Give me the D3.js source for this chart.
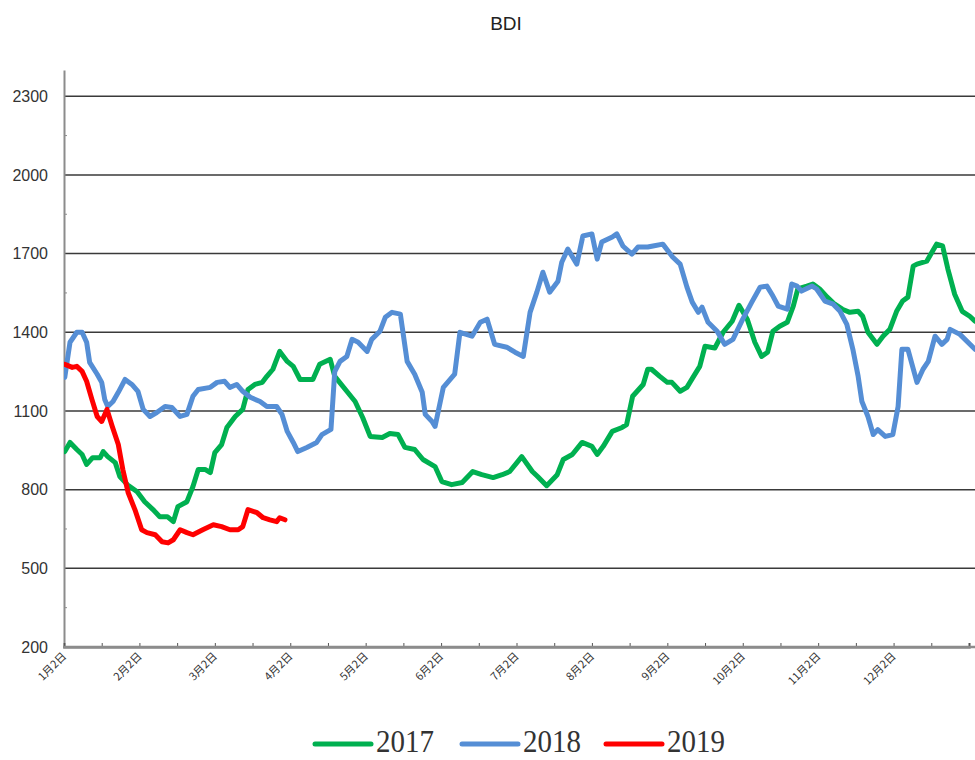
<!DOCTYPE html>
<html>
<head>
<meta charset="utf-8">
<script src="https://cdn.jsdelivr.net/npm/d3@7"></script>
<style>
  html, body { margin: 0; padding: 0; background: #fff; }
  svg { display: block; }
</style>
</head>
<body>
<svg id="chart" width="975" height="760"></svg>
<script>
// ---- DATA ----
const title = "BDI";
const monthLabels = ["1月2日","2月2日","3月2日","4月2日","5月2日","6月2日","7月2日","8月2日","9月2日","10月2日","11月2日","12月2日"];
const yTicks = [200, 500, 800, 1100, 1400, 1700, 2000, 2300];
const seriesNames = ["2017", "2018", "2019"];
const seriesColors = ["#00b050", "#558ed5", "#ff0000"];

// x positions in months since 1月2日
const t2017 = [0.01,0.08,0.17,0.24,0.30,0.38,0.48,0.52,0.58,0.68,0.74,0.84,0.97,1.07,1.18,1.27,1.37,1.45,1.51,1.63,1.71,1.78,1.87,1.94,2.00,2.09,2.16,2.27,2.37,2.44,2.53,2.63,2.69,2.77,2.86,2.96,3.04,3.13,3.30,3.39,3.53,3.59,3.75,3.86,3.96,4.06,4.22,4.32,4.43,4.52,4.65,4.76,4.92,5.01,5.14,5.28,5.42,5.54,5.69,5.81,5.91,6.07,6.21,6.28,6.40,6.54,6.62,6.74,6.87,7.00,7.07,7.15,7.27,7.40,7.46,7.54,7.68,7.74,7.79,7.90,8.00,8.06,8.17,8.26,8.34,8.43,8.50,8.63,8.74,8.86,8.95,9.06,9.16,9.25,9.33,9.40,9.49,9.59,9.67,9.73,9.85,9.93,10.02,10.12,10.22,10.32,10.42,10.53,10.59,10.66,10.78,10.86,10.95,11.04,11.12,11.19,11.26,11.31,11.44,11.51,11.57,11.65,11.72,11.81,11.91,12.01,12.08];
const v2017 = [945,980,953,934,896,922,922,945,926,903,850,819,792,754,724,697,697,678,735,754,812,877,877,865,941,972,1037,1079,1106,1182,1201,1209,1232,1259,1327,1289,1270,1220,1220,1278,1297,1232,1175,1136,1075,1003,999,1014,1010,961,953,915,888,831,819,827,869,857,846,857,869,926,869,850,815,857,915,934,980,965,934,965,1022,1037,1048,1156,1201,1259,1259,1232,1209,1209,1175,1190,1228,1270,1347,1340,1400,1442,1503,1450,1362,1308,1324,1404,1423,1438,1500,1565,1576,1584,1565,1534,1507,1488,1476,1480,1461,1400,1354,1385,1411,1480,1519,1534,1652,1660,1671,1706,1736,1729,1641,1545,1480,1461,1442];

const t2018 = [0.01,0.08,0.17,0.24,0.30,0.34,0.44,0.50,0.54,0.58,0.65,0.72,0.81,0.90,0.98,1.05,1.14,1.23,1.34,1.43,1.54,1.63,1.71,1.78,1.94,2.03,2.13,2.20,2.29,2.37,2.47,2.60,2.69,2.82,2.89,2.96,3.04,3.10,3.22,3.35,3.42,3.54,3.59,3.66,3.75,3.82,3.90,4.02,4.08,4.19,4.26,4.35,4.46,4.55,4.65,4.75,4.79,4.88,4.92,5.03,5.18,5.25,5.41,5.52,5.61,5.71,5.87,5.98,6.09,6.18,6.27,6.35,6.44,6.55,6.60,6.68,6.80,6.88,7.00,7.07,7.13,7.27,7.33,7.41,7.53,7.61,7.74,7.81,7.94,8.01,8.07,8.17,8.26,8.33,8.41,8.46,8.54,8.66,8.76,8.87,9.00,9.12,9.23,9.32,9.40,9.47,9.59,9.65,9.72,9.78,9.92,9.98,10.09,10.20,10.29,10.38,10.46,10.53,10.58,10.66,10.73,10.79,10.89,10.99,11.06,11.11,11.19,11.31,11.39,11.46,11.55,11.64,11.71,11.75,11.88,12.08];
const v2018 = [1228,1362,1400,1400,1362,1285,1240,1209,1144,1117,1136,1171,1220,1201,1175,1106,1079,1094,1117,1113,1079,1087,1156,1182,1190,1209,1213,1190,1201,1175,1152,1136,1117,1117,1087,1022,980,945,961,980,1010,1030,1250,1289,1308,1373,1362,1327,1373,1404,1457,1476,1469,1289,1240,1171,1087,1060,1041,1190,1240,1400,1385,1438,1450,1354,1343,1324,1308,1476,1553,1629,1553,1595,1667,1717,1660,1767,1775,1679,1744,1763,1775,1729,1698,1725,1725,1729,1736,1710,1687,1660,1572,1515,1476,1496,1438,1404,1354,1373,1450,1515,1572,1576,1538,1500,1488,1584,1576,1557,1576,1565,1519,1507,1480,1430,1335,1232,1136,1079,1010,1029,1003,1010,1117,1335,1335,1209,1259,1289,1385,1354,1373,1411,1392,1335];

const t2019 = [0.01,0.11,0.17,0.24,0.30,0.37,0.44,0.50,0.57,0.64,0.72,0.78,0.85,0.94,1.03,1.10,1.21,1.30,1.38,1.45,1.54,1.63,1.71,1.84,1.98,2.09,2.20,2.31,2.37,2.44,2.56,2.64,2.73,2.82,2.86,2.93];
const v2019 = [1278,1266,1270,1251,1213,1144,1079,1060,1106,1041,972,877,789,724,647,636,628,601,597,609,647,636,628,647,666,659,647,647,659,724,712,693,685,678,693,685];

// ---- CHART ----
const svg = d3.select("#chart");
const W = 975, H = 760;
const x = d3.scaleLinear().domain([0, 12]).range([64, 969]);
const y = d3.scaleLinear().domain([200, 2400]).range([647, 70]);

// title
svg.append("text")
  .attr("x", 506).attr("y", 30)
  .attr("text-anchor", "middle")
  .attr("font-family", "Liberation Sans, Arial, sans-serif")
  .attr("font-size", 19)
  .attr("fill", "#222")
  .text(title);

// gridlines
svg.append("g")
  .selectAll("line")
  .data(yTicks.filter(d => d > 200))
  .join("line")
  .attr("x1", x(0)).attr("x2", W)
  .attr("y1", d => y(d)).attr("y2", d => y(d))
  .attr("stroke", "#3a3a3a")
  .attr("stroke-width", 1.5);

// y axis
const yAxis = d3.axisLeft(y).tickValues(yTicks).tickSize(0).tickPadding(16).tickFormat(d3.format("d"));
const gy = svg.append("g").attr("transform", `translate(${x(0)},0)`).call(yAxis);
gy.select(".domain").attr("stroke", "#8c8c8c").attr("stroke-width", 2);
gy.selectAll("text")
  .attr("font-family", "Liberation Sans, Arial, sans-serif")
  .attr("font-size", 16)
  .attr("fill", "#333");
// y minor ticks
const yMinor = d3.range(350, 2400, 300);
svg.append("g")
  .selectAll("line")
  .data(yMinor)
  .join("line")
  .attr("x1", x(0)).attr("x2", x(0) + 3)
  .attr("y1", d => y(d)).attr("y2", d => y(d))
  .attr("stroke", "#8c8c8c").attr("stroke-width", 1);

// x axis
const xTickVals = d3.range(0, 12.01, 0.5);
const xAxis = d3.axisBottom(x).tickValues(xTickVals).tickSize(-4).tickFormat(() => "");
const gx = svg.append("g").attr("transform", `translate(0,${y(200)})`).call(xAxis);
gx.select(".domain").attr("stroke", "#8c8c8c").attr("stroke-width", 2.5);
gx.selectAll(".tick line").attr("stroke", "#555").attr("stroke-width", 1);
// extend axis line to the right edge
svg.append("line")
  .attr("x1", x(0) - 1).attr("x2", W)
  .attr("y1", y(200)).attr("y2", y(200))
  .attr("stroke", "#8c8c8c").attr("stroke-width", 2.5);

// x labels rotated
svg.append("g")
  .selectAll("text")
  .data(monthLabels)
  .join("text")
  .attr("transform", (d, i) => `translate(${x(i) + 3},${y(200) + 10}) rotate(-45)`)
  .attr("text-anchor", "end")
  .attr("font-family", "Noto Sans CJK SC, sans-serif")
  .attr("font-size", 11)
  .attr("fill", "#333")
  .text(d => d);

// lines
const line = d3.line().x(d => x(d[0])).y(d => y(d[1]));
const series = [
  d3.zip(t2017, v2017),
  d3.zip(t2018, v2018),
  d3.zip(t2019, v2019)
];
svg.append("defs").append("clipPath").attr("id", "clip")
  .append("rect").attr("x", x(0)).attr("y", 60).attr("width", W - x(0)).attr("height", 600);
svg.append("g").attr("clip-path", "url(#clip)")
  .selectAll("path")
  .data(series)
  .join("path")
  .attr("d", line)
  .attr("fill", "none")
  .attr("stroke", (d, i) => seriesColors[i])
  .attr("stroke-width", 5)
  .attr("stroke-linejoin", "round")
  .attr("stroke-linecap", "round");

// legend
const legendX = [315, 462, 606];
const lg = svg.append("g");
seriesNames.forEach((name, i) => {
  lg.append("line")
    .attr("x1", legendX[i]).attr("x2", legendX[i] + 56)
    .attr("y1", 744).attr("y2", 744)
    .attr("stroke", seriesColors[i]).attr("stroke-width", 5)
    .attr("stroke-linecap", "round");
  lg.append("text")
    .attr("transform", `translate(${legendX[i] + 61},752) scale(1,1.12)`)
    .attr("font-family", "Liberation Serif, Times New Roman, serif")
    .attr("font-size", 29)
    .attr("fill", "#333")
    .text(name);
});
</script>
</body>
</html>
